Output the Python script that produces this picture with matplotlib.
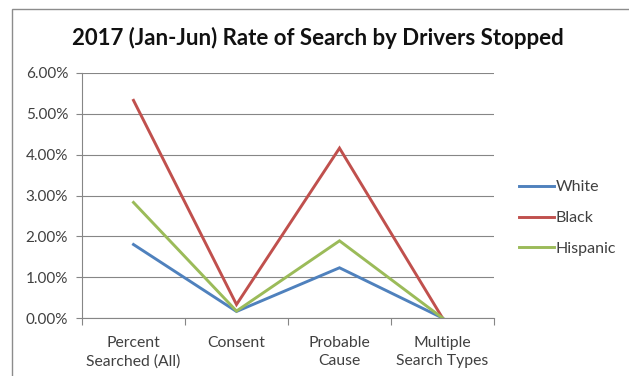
import matplotlib
matplotlib.use("Agg")
import matplotlib.pyplot as plt
from matplotlib.ticker import FuncFormatter, FixedLocator
from matplotlib.patches import Rectangle

categories = ["Percent\nSearched (All)", "Consent", "Probable\nCause", "Multiple\nSearch Types"]
white = [1.80, 0.16, 1.23, 0.00]
black = [5.33, 0.33, 4.16, 0.00]
hispanic = [2.83, 0.17, 1.89, 0.00]
yticks = [0, 1, 2, 3, 4, 5, 6]

plt.rcParams["font.family"] = ["Lato", "DejaVu Sans"]

fig = plt.figure(figsize=(6.29, 3.76), dpi=100)
fig.patches.append(Rectangle((12 / 629, -0.1), 1.2, 1 - 9 / 376 + 0.1,
                             transform=fig.transFigure, fill=False,
                             edgecolor="#8c8c8c", linewidth=1.0))

ax = fig.add_axes([82 / 629, 1 - 318 / 376, 412 / 629, 245 / 376])
x = [i + 0.5 for i in range(len(categories))]
ax.plot(x, white, color="#4F81BD", lw=2.1, label="White", solid_joinstyle="miter")
ax.plot(x, black, color="#C0504D", lw=2.1, label="Black", solid_joinstyle="miter")
ax.plot(x, hispanic, color="#9BBB59", lw=2.1, label="Hispanic", solid_joinstyle="miter")

ax.set_xlim(0, len(categories))
ax.set_ylim(0, 6)
ax.set_yticks(yticks)
ax.yaxis.set_major_formatter(FuncFormatter(lambda v, p: f"{v:.2f}%"))
ax.grid(axis="y", color="#868686", lw=0.8)
ax.set_axisbelow(True)

ax.xaxis.set_major_locator(FixedLocator(range(len(categories) + 1)))
ax.xaxis.set_minor_locator(FixedLocator(x))
ax.set_xticklabels([])
ax.set_xticklabels(categories, minor=True, fontsize=11.3, color="#404040", linespacing=1.35)
ax.tick_params(axis="x", which="major", length=5, color="#868686", width=0.8)
ax.tick_params(axis="x", which="minor", length=0, pad=13)
ax.tick_params(axis="y", length=4, color="#868686", width=0.8, labelsize=11,
               labelcolor="#404040", pad=6)

for s in ["top", "right"]:
    ax.spines[s].set_visible(False)
for s in ["left", "bottom"]:
    ax.spines[s].set_color("#868686")
    ax.spines[s].set_linewidth(0.8)

fig.text(318 / 629, 1 - 38 / 376, "2017 (Jan-Jun) Rate of Search by Drivers Stopped",
         ha="center", va="center", fontsize=16, fontweight="bold", color="#111111")

fig.legend(loc="center left", bbox_to_anchor=(519 / 629, 1 - 218 / 376), frameon=False,
           fontsize=11.5, handlelength=2.2, handletextpad=0.1, labelspacing=1.05,
           labelcolor="#404040", borderaxespad=0, borderpad=0)

fig.savefig("out.png", dpi=100)
